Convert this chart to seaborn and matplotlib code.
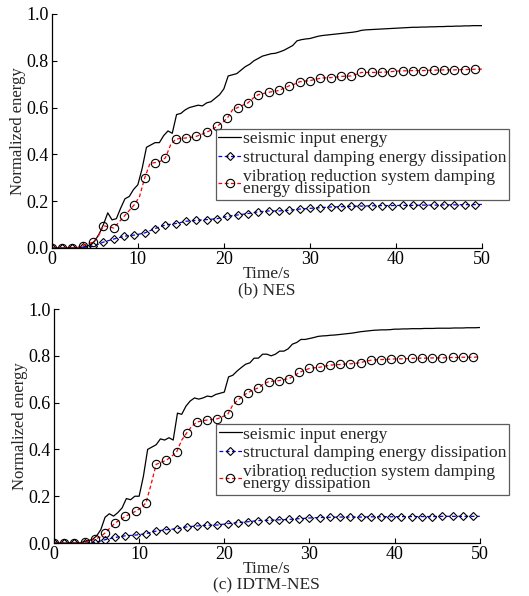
import numpy as np
import pandas as pd
import matplotlib
matplotlib.use("Agg")
import matplotlib.pyplot as plt
import seaborn as sns

# 数据：归一化能量
# 地震输入能量，0.5 s 采样
seismic_nes = [
    0, 0, 0, 0, 0, 0, 0.001, 0.003, 0.006, 0.015,
    0.03, 0.06, 0.10, 0.15, 0.12, 0.125, 0.17, 0.21, 0.22, 0.25,
    0.27, 0.34, 0.43, 0.44, 0.45, 0.45, 0.48, 0.50, 0.49, 0.57,
    0.575, 0.59, 0.60, 0.605, 0.61, 0.607, 0.62, 0.625, 0.64, 0.655,
    0.68, 0.735, 0.74, 0.745, 0.76, 0.775, 0.785, 0.80, 0.81, 0.82,
    0.825, 0.83, 0.832, 0.838, 0.845, 0.855, 0.865, 0.885, 0.89, 0.893,
    0.895, 0.90, 0.905, 0.908, 0.91, 0.912, 0.914, 0.916, 0.918, 0.92,
    0.922, 0.925, 0.93, 0.932, 0.933, 0.934, 0.935, 0.936, 0.937, 0.938,
    0.939, 0.94, 0.941, 0.942, 0.943, 0.943, 0.944, 0.944, 0.945, 0.945,
    0.946, 0.946, 0.947, 0.947, 0.948, 0.948, 0.949, 0.949, 0.95, 0.95,
    0.95,
]
seismic_idtm = [
    0, 0, 0, 0, 0, 0, 0.001, 0.004, 0.01, 0.015,
    0.03, 0.057, 0.11, 0.125, 0.115, 0.13, 0.15, 0.19, 0.185, 0.20,
    0.20, 0.285, 0.40, 0.41, 0.42, 0.445, 0.44, 0.45, 0.44, 0.555,
    0.55, 0.585, 0.607, 0.62, 0.615, 0.62, 0.628, 0.625, 0.635, 0.64,
    0.645, 0.71, 0.717, 0.735, 0.75, 0.764, 0.77, 0.79, 0.79, 0.807,
    0.807, 0.80, 0.807, 0.82, 0.82, 0.83, 0.85, 0.857, 0.87, 0.87,
    0.874, 0.878, 0.883, 0.885, 0.886, 0.888, 0.889, 0.891, 0.893, 0.895,
    0.897, 0.90, 0.903, 0.905, 0.907, 0.909, 0.91, 0.911, 0.911, 0.912,
    0.914, 0.914, 0.915, 0.915, 0.916, 0.916, 0.916, 0.917, 0.917, 0.917,
    0.918, 0.918, 0.918, 0.918, 0.919, 0.919, 0.919, 0.92, 0.92, 0.92,
    0.921,
]

# 减振系统阻尼耗能，0.6 s 采样，最后一点为 50 s
vrs_nes = [
    0, 0, 0, 0, 0, 0.002, 0.01, 0.018, 0.025, 0.05,
    0.095, 0.09, 0.085, 0.11, 0.135, 0.16, 0.185, 0.22, 0.30, 0.36,
    0.365, 0.37, 0.385, 0.44, 0.465, 0.468, 0.47, 0.473, 0.477, 0.485,
    0.495, 0.505, 0.52, 0.535, 0.555, 0.59, 0.60, 0.61, 0.62, 0.64,
    0.655, 0.66, 0.665, 0.669, 0.673, 0.683, 0.693, 0.70, 0.71, 0.713,
    0.715, 0.72, 0.725, 0.727, 0.728, 0.73, 0.733, 0.734, 0.735, 0.742,
    0.75, 0.75, 0.75, 0.75, 0.751, 0.752, 0.754, 0.756, 0.757, 0.757,
    0.758, 0.758, 0.758, 0.759, 0.76, 0.76, 0.761, 0.761, 0.761, 0.762,
    0.762, 0.763, 0.764, 0.764,
    0.764,
]
vrs_idtm = [
    0, 0, 0, 0, 0, 0.001, 0.003, 0.008, 0.017, 0.025,
    0.043, 0.065, 0.086, 0.10, 0.114, 0.125, 0.136, 0.15, 0.171, 0.25,
    0.336, 0.345, 0.354, 0.37, 0.389, 0.44, 0.471, 0.50, 0.517, 0.522,
    0.526, 0.528, 0.531, 0.54, 0.55, 0.59, 0.611, 0.63, 0.643, 0.655,
    0.663, 0.68, 0.689, 0.692, 0.694, 0.698, 0.703, 0.715, 0.729, 0.738,
    0.746, 0.749, 0.751, 0.756, 0.76, 0.762, 0.763, 0.765, 0.766, 0.768,
    0.771, 0.777, 0.781, 0.783, 0.784, 0.785, 0.786, 0.787, 0.787, 0.788,
    0.789, 0.79, 0.79, 0.79, 0.791, 0.791, 0.791, 0.792, 0.793, 0.793,
    0.794, 0.794, 0.794, 0.795,
    0.795,
]

# 结构阻尼耗能，1.2 s 采样，最后一点为 50 s
struct_nes = [
    0, 0, 0, 0.002, 0.007, 0.025, 0.038, 0.05, 0.055, 0.064,
    0.083, 0.098, 0.104, 0.114, 0.118, 0.121, 0.125, 0.135, 0.141, 0.147,
    0.154, 0.158, 0.158, 0.161, 0.166, 0.169, 0.172, 0.175, 0.176, 0.178,
    0.179, 0.18, 0.181, 0.181, 0.182, 0.182, 0.183, 0.183, 0.184, 0.184,
    0.185, 0.185,
    0.186,
]
struct_idtm = [
    0, 0, 0, 0, 0.002, 0.014, 0.024, 0.031, 0.034, 0.04,
    0.051, 0.057, 0.061, 0.069, 0.073, 0.076, 0.077, 0.083, 0.087, 0.091,
    0.096, 0.097, 0.099, 0.101, 0.104, 0.107, 0.109, 0.11, 0.111, 0.111,
    0.111, 0.112, 0.112, 0.112, 0.113, 0.113, 0.113, 0.113, 0.114, 0.114,
    0.114, 0.114,
    0.114,
]

labels = ["seismic input energy",
          "structural damping energy dissipation",
          "vibration reduction system damping\nenergy dissipation"]
x_ticks = [0, 10, 20, 30, 40, 50]
y_ticks = [0.0, 0.2, 0.4, 0.6, 0.8, 1.0]
subtitles = ["(b) NES", "(c) IDTM-NES"]


def time_axis(values, step):
    # 等间隔采样，最后一点固定在 50 s
    return np.r_[np.arange(len(values) - 1) * step, 50.0]


sns.set_style("ticks")
plt.rcParams["font.family"] = ["Liberation Serif", "DejaVu Serif"]
plt.rcParams["font.size"] = 12

fig = plt.figure(figsize=(5.29, 5.96), dpi=100)
ax_top = fig.add_axes([0.098, 0.584, 0.813, 0.3926])
ax_bot = fig.add_axes([0.102, 0.0889, 0.805, 0.3926])

panels = [
    (ax_top, seismic_nes, struct_nes, vrs_nes, subtitles[0]),
    (ax_bot, seismic_idtm, struct_idtm, vrs_idtm, subtitles[1]),
]

for ax, seis, struct, vrs, sub in panels:
    sns.lineplot(x=time_axis(seis, 0.5), y=seis, ax=ax, color="black",
                 linewidth=0.9, label=labels[0])
    sns.lineplot(x=time_axis(struct, 1.2), y=struct, ax=ax, color="blue",
                 linewidth=0.9, linestyle=(0, (3, 2)), marker="D",
                 markersize=4.5, markerfacecolor="none",
                 markeredgecolor="black", markeredgewidth=0.8,
                 markevery=slice(0, len(struct) - 1), label=labels[1])
    sns.lineplot(x=time_axis(vrs, 0.6), y=vrs, ax=ax, color="red",
                 linewidth=0.9, linestyle=(0, (3, 2)), marker="o",
                 markersize=6, markerfacecolor="none",
                 markeredgecolor="black", markeredgewidth=0.8,
                 markevery=slice(0, len(vrs) - 1, 2), label=labels[2])

    ax.set_xlim(0, 50)
    ax.set_ylim(0, 1)
    ax.set_xticks(x_ticks)
    ax.set_yticks(y_ticks)
    ax.set_yticklabels([f"{v:.1f}" for v in y_ticks])
    ax.tick_params(direction="in", length=3.5, width=0.8, labelsize=13,
                   pad=2.5, colors="black")
    for s in ["top", "right"]:
        ax.spines[s].set_visible(False)
    for s in ["left", "bottom"]:
        ax.spines[s].set_linewidth(0.9)
        ax.spines[s].set_color("black")
    ax.set_xlabel("Time/s", fontsize=12.5, labelpad=-2)
    ax.set_ylabel("Normalized energy", fontsize=12, labelpad=0)
    ax.text(0.5, -0.18, sub, transform=ax.transAxes, ha="center", va="center",
            fontsize=12.5)

    leg = ax.legend(loc="upper left", bbox_to_anchor=(0.381, 0.51),
                    borderaxespad=0, fontsize=12.6, frameon=True,
                    fancybox=False, shadow=False, handlelength=1.3,
                    handletextpad=0.1, labelspacing=0.15, borderpad=0.15)
    leg.get_frame().set_edgecolor("#333333")
    leg.get_frame().set_linewidth(0.9)
    leg.get_texts()[2].set_linespacing(0.7)

fig.savefig("out.png", dpi=100)
